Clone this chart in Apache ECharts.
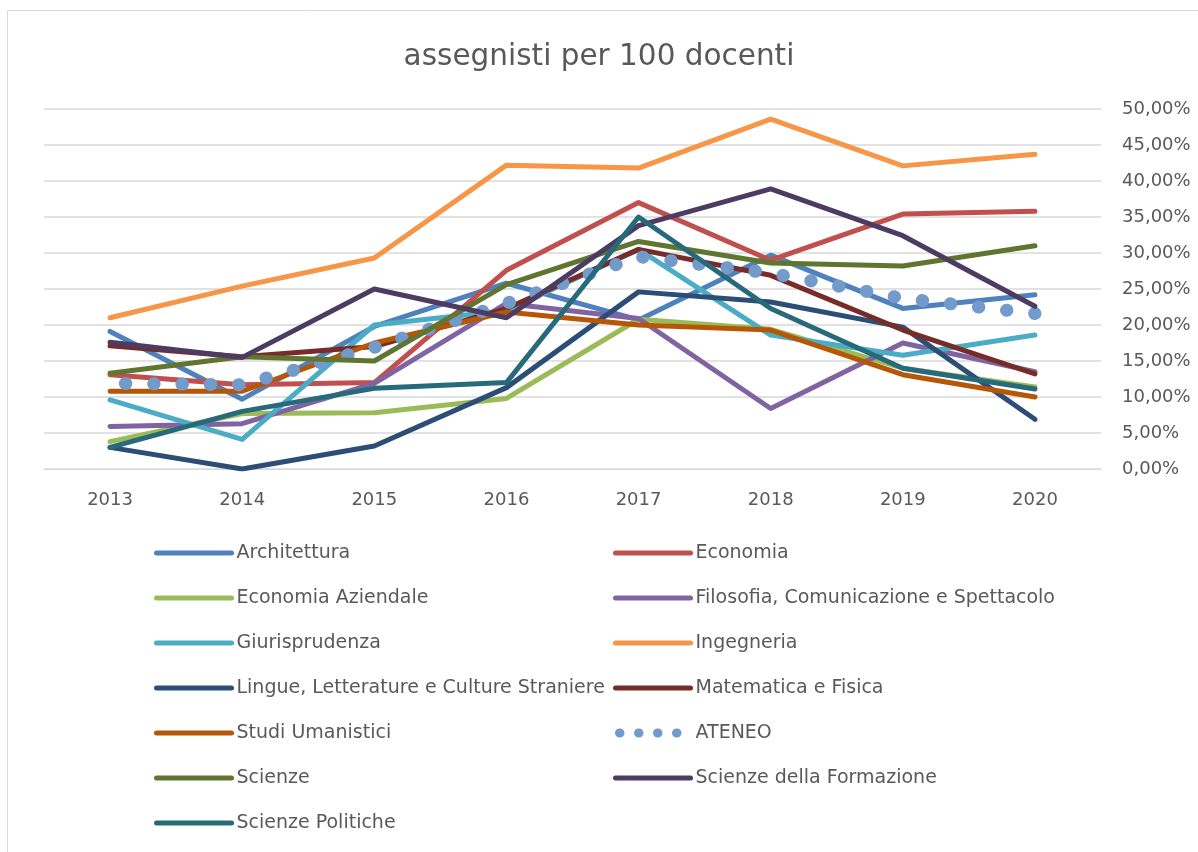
<!DOCTYPE html>
<html>
<head>
<meta charset="utf-8">
<script src="https://cdn.jsdelivr.net/npm/echarts@6/dist/echarts.min.js"></script>
<style>
  html, body { margin: 0; padding: 0; background: #fff; }
  #main { width: 1198px; height: 852px; }
</style>
</head>
<body>
<div id="main"></div>
<script>
// anni
var years = ['2013', '2014', '2015', '2016', '2017', '2018', '2019', '2020'];

// valori in %
var architettura   = [19.1, 9.7, 19.8, 25.8, 20.7, 29.7, 22.3, 24.2];
var economia       = [13.1, 11.7, 12.0, 27.6, 37.0, 29.0, 35.4, 35.8];
var ecoAziendale   = [3.8, 7.7, 7.8, 9.8, 20.8, 19.4, 14.0, 11.4];
var filosofia      = [5.9, 6.3, 11.9, 23.0, 20.9, 8.4, 17.5, 13.5];
var giurisprudenza = [9.6, 4.1, 20.0, 22.0, 30.5, 18.6, 15.8, 18.6];
var ingegneria     = [21.0, 25.4, 29.3, 42.2, 41.8, 48.6, 42.1, 43.7];
var lingue         = [3.0, 0.0, 3.2, 11.3, 24.6, 23.2, 19.7, 6.9];
var matFisica      = [17.1, 15.6, 17.0, 22.3, 30.5, 26.9, 19.3, 13.2];
var studiUman      = [10.8, 10.8, 17.5, 21.8, 20.0, 19.3, 13.1, 10.0];
var ateneo         = [11.9, 11.7, 16.9, 23.0, 29.5, 27.2, 23.7, 21.6];
var scienze        = [13.3, 15.6, 15.0, 25.6, 31.6, 28.6, 28.2, 31.0];
var sciFormazione  = [17.6, 15.5, 25.0, 21.0, 33.8, 38.9, 32.4, 22.6];
var sciPolitiche   = [3.0, 8.0, 11.2, 12.0, 35.0, 22.3, 14.0, 11.1];

var FONT = 'DejaVu Sans';
var GRAY = '#595959';

function linea(nome, dati, colore) {
  return {
    name: nome,
    type: 'line',
    data: dati,
    symbol: 'none',
    color: colore,
    lineStyle: { color: colore, width: 5, cap: 'round', join: 'round' },
    emphasis: { disabled: true },
    animation: false
  };
}

var series = [
  linea('Architettura', architettura, '#4F81BD'),
  linea('Economia', economia, '#C0504D'),
  linea('Economia Aziendale', ecoAziendale, '#9BBB59'),
  linea('Filosofia, Comunicazione e Spettacolo', filosofia, '#8064A2'),
  linea('Giurisprudenza', giurisprudenza, '#4BACC6'),
  linea('Ingegneria', ingegneria, '#F79646'),
  linea('Lingue, Letterature e Culture Straniere', lingue, '#2C4D75'),
  linea('Matematica e Fisica', matFisica, '#772C2A'),
  linea('Studi Umanistici', studiUman, '#B65708'),
  {
    name: 'ATENEO',
    type: 'line',
    data: ateneo,
    symbol: 'none',
    color: '#729ACA',
    lineStyle: { color: '#729ACA', width: 13, type: [0.5, 27.8], dashOffset: 13, cap: 'round' },
    emphasis: { disabled: true },
    animation: false
  },
  linea('Scienze', scienze, '#5F7530'),
  linea('Scienze della Formazione', sciFormazione, '#4D3B62'),
  linea('Scienze Politiche', sciPolitiche, '#276A7C')
];

var legendBase = {
  orient: 'vertical',
  top: 543,
  padding: 0,
  itemWidth: 75,
  itemHeight: 20,
  itemGap: 25,
  selectedMode: false,
  itemStyle: { opacity: 0 },
  lineStyle: { width: 5, cap: 'round' },
  textStyle: { fontFamily: FONT, fontSize: 19, color: GRAY, lineHeight: 20 }
};

var myChart = echarts.init(document.getElementById('main'));
var option = {
  backgroundColor: '#fff',
  animation: false,
  title: {
    text: 'assegnisti per 100 docenti',
    left: 'center',
    top: 37,
    textStyle: { fontFamily: FONT, fontSize: 29.5, fontWeight: 'normal', color: GRAY }
  },
  grid: { left: 44, right: 97, top: 109, bottom: 383 },
  legend: [
    Object.assign({}, legendBase, {
      left: 154,
      data: ['Architettura', 'Economia Aziendale', 'Giurisprudenza',
             'Lingue, Letterature e Culture Straniere', 'Studi Umanistici',
             'Scienze', 'Scienze Politiche']
    }),
    Object.assign({}, legendBase, {
      left: 611,
      data: ['Economia', 'Filosofia, Comunicazione e Spettacolo', 'Ingegneria',
             'Matematica e Fisica',
             { name: 'ATENEO', lineStyle: { width: 9, type: [0.5, 18.5], dashOffset: 15, cap: 'round' } },
             'Scienze della Formazione']
    })
  ],
  xAxis: {
    type: 'category',
    data: years,
    boundaryGap: true,
    axisLine: { show: true, lineStyle: { color: '#d9d9d9', width: 1 } },
    axisTick: { show: false },
    axisLabel: { fontFamily: FONT, fontSize: 18, color: GRAY, margin: 22 }
  },
  yAxis: {
    type: 'value',
    position: 'right',
    min: 0,
    max: 50,
    interval: 5,
    axisLine: { show: false },
    axisTick: { show: false },
    splitLine: { lineStyle: { color: '#d9d9d9', width: 1.5 } },
    axisLabel: {
      fontFamily: FONT, fontSize: 18, color: GRAY, margin: 21,
      formatter: function (v) { return v.toFixed(2).replace('.', ',') + '%'; }
    }
  },
  graphic: [{
    type: 'rect',
    shape: { x: 7.5, y: 10.5, width: 1300, height: 1000 },
    style: { fill: 'none', stroke: '#d9d9d9', lineWidth: 1 },
    silent: true
  }],
  series: series
};
myChart.setOption(option);
window.onresize = myChart.resize;
</script>
</body>
</html>
